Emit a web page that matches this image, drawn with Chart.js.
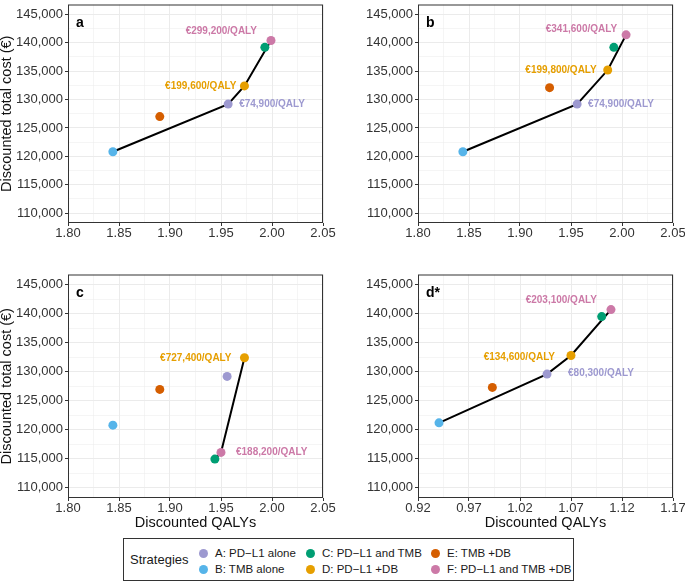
<!DOCTYPE html>
<html>
<head>
<meta charset="utf-8">
<script src="https://cdn.jsdelivr.net/npm/chart.js@4.4.1/dist/chart.umd.min.js"></script>
<style>
  body { margin: 0; background: #fff; width: 685px; height: 583px; position: relative; overflow: hidden;
         font-family: "Liberation Sans", Arial, sans-serif; }
  canvas { position: absolute; }
  #legend { position: absolute; left: 123px; top: 538px; width: 451px; height: 43px; border: 1px solid #333; box-sizing: border-box; }
  #legend .ttl { position: absolute; left: 6px; top: 13px; font-size: 13px; color: #1a1a1a; }
  #legend .item { position: absolute; font-size: 11.5px; color: #1a1a1a; white-space: nowrap; line-height: 16px; }
  #legend .dot { position: absolute; width: 9px; height: 9px; border-radius: 50%; }
</style>
</head>
<body>
<canvas id="pa" width="340" height="245" style="left:0;top:0"></canvas>
<canvas id="pb" width="345" height="245" style="left:340px;top:0"></canvas>
<canvas id="pc" width="340" height="260" style="left:0;top:270px"></canvas>
<canvas id="pd" width="345" height="260" style="left:340px;top:270px"></canvas>
<div id="legend"><span class="ttl">Strategies</span></div>
<script>
const strategies = ["A: PD\u2212L1 alone", "B: TMB alone", "C: PD\u2212L1 and TMB",
                    "D: PD\u2212L1 +DB", "E: TMB +DB", "F: PD\u2212L1 and TMB +DB"];
const colors = ["#9d99d0", "#56b4e9", "#009e73", "#e69f00", "#d55e00", "#cc79a7"];

// strategy order A..F
const qalyA = [1.957, 1.844, 1.993, 1.973, 1.890, 1.999];
const costA = [129200, 120800, 139200, 132400, 127000, 140400];
const frontierA = [1, 0, 3, 5];
const icerIdxA = [0, 3, 5];
const icerA = ["€74,900/QALY", "€199,600/QALY", "€299,200/QALY"];

const qalyB = [1.956, 1.844, 1.992, 1.986, 1.929, 2.004];
const costB = [129200, 120800, 139200, 135200, 132100, 141400];
const frontierB = [1, 0, 3, 5];
const icerIdxB = [0, 3, 5];
const icerB = ["€74,900/QALY", "€199,800/QALY", "€341,600/QALY"];

const qalyC = [1.956, 1.844, 1.944, 1.973, 1.890, 1.950];
const costC = [129200, 120800, 114950, 132400, 126950, 116100];
const frontierC = [2, 5, 3];
const icerIdxC = [5, 3];
const icerC = ["€188,200/QALY", "€727,400/QALY"];

const qalyD = [1.0465, 0.9406, 1.1001, 1.070, 0.9929, 1.1092];
const costD = [129600, 121200, 139500, 132800, 127300, 140700];
const frontierD = [1, 0, 3, 5];
const icerIdxD = [0, 3, 5];
const icerD = ["€80,300/QALY", "€134,600/QALY", "€203,100/QALY"];

const xMajor1 = [1.80, 1.85, 1.90, 1.95, 2.00, 2.05];
const xMinor1 = [1.825, 1.875, 1.925, 1.975, 2.025];
const xMajor2 = [0.92, 0.97, 1.02, 1.07, 1.12, 1.17];
const xMinor2 = [0.945, 0.995, 1.045, 1.095, 1.145];
const yMajor = [110000, 115000, 120000, 125000, 130000, 135000, 140000, 145000];
const yMinor = [112500, 117500, 122500, 127500, 132500, 137500, 142500];

const FONT = '"Liberation Sans", Arial, sans-serif';

const framePlugin = {
  id: 'frame',
  afterDraw(chart) {
    const { ctx, chartArea: a } = chart;
    ctx.save();
    ctx.strokeStyle = '#333';
    ctx.lineWidth = 1;
    ctx.strokeRect(a.left + 0.5, a.top + 0.5, a.width - 1, a.height - 1);
    ctx.restore();
  }
};

const icerPlugin = {
  id: 'icer',
  afterDatasetsDraw(chart, args, opts) {
    const { ctx, chartArea: a } = chart;
    const x = chart.scales.x, y = chart.scales.y;
    ctx.save();
    ctx.textBaseline = 'middle';
    ctx.font = 'bold 10px ' + FONT;
    opts.items.forEach(it => {
      ctx.fillStyle = it.color;
      ctx.textAlign = it.dx < 0 ? 'right' : 'left';
      ctx.fillText(it.text, x.getPixelForValue(it.q) + it.dx, y.getPixelForValue(it.c) + it.dy);
    });
    ctx.font = 'bold 14px ' + FONT;
    ctx.fillStyle = '#000';
    ctx.textAlign = 'left';
    ctx.fillText(opts.tag, a.left + 8, a.top + 19);
    ctx.restore();
  }
};

function tickList(major, minor) {
  return major.map(v => ({ value: v, isMajor: true }))
    .concat(minor.map(v => ({ value: v, isMajor: false })))
    .sort((p, q) => p.value - q.value);
}

function makePanel(id, p) {
  const isMaj = c => c.tick && c.tick.isMajor;
  const grid = {
    color: '#ebebeb',
    lineWidth: c => isMaj(c) ? 1 : 0.5,
    drawTicks: true,
    tickLength: 3,
    tickWidth: 1,
    tickColor: c => isMaj(c) ? '#333' : 'rgba(0,0,0,0)'
  };
  const items = p.icerIdx.map((i, k) => ({
    q: p.qaly[i], c: p.cost[i], text: p.icer[k], color: colors[i], dx: p.offs[k][0], dy: p.offs[k][1]
  }));
  new Chart(document.getElementById(id), {
    type: 'scatter',
    data: {
      datasets: [
        {
          type: 'line',
          data: p.frontier.map(i => ({ x: p.qaly[i], y: p.cost[i] })),
          borderColor: '#000', borderWidth: 2, pointRadius: 0, fill: false, tension: 0, order: 2
        },
        {
          data: p.qaly.map((q, i) => ({ x: q, y: p.cost[i] })),
          backgroundColor: colors, borderWidth: 0, pointRadius: 4.5, order: 1
        }
      ]
    },
    options: {
      responsive: false,
      animation: false,
      events: [],
      layout: { padding: p.pad },
      plugins: { legend: { display: false }, tooltip: { enabled: false }, icer: { items: items, tag: p.tag } },
      scales: {
        x: {
          type: 'linear', min: p.xMajor[0], max: p.xMajor[p.xMajor.length - 1],
          afterBuildTicks: s => { s.ticks = tickList(p.xMajor, p.xMinor); },
          afterFit: s => { s.height = p.xH; s.paddingLeft = 0; s.paddingRight = 0; },
          grid: grid,
          border: { display: false },
          ticks: {
            autoSkip: false, maxRotation: 0, padding: 0, color: '#333', font: { size: 13, family: FONT },
            callback: (v, i, t) => t[i].isMajor ? v.toFixed(2) : ''
          },
          title: { display: p.xTitle, text: 'Discounted QALYs', color: '#111', padding: 0,
                   font: { size: 14.5, family: FONT, lineHeight: 1 } }
        },
        y: {
          type: 'linear', min: 108250, max: 146750,
          afterBuildTicks: s => { s.ticks = tickList(yMajor, yMinor); },
          afterFit: s => { s.width = p.yW; s.paddingTop = 0; s.paddingBottom = 0; },
          grid: grid,
          border: { display: false },
          ticks: {
            autoSkip: false, padding: 2, color: '#333', font: { size: 13, family: FONT },
            callback: (v, i, t) => t[i].isMajor ? v.toLocaleString('en-US') : ''
          },
          title: { display: p.yTitle, text: 'Discounted total cost (€)', color: '#111', padding: 0,
                   font: { size: 14.5, family: FONT, lineHeight: 1 } }
        }
      }
    },
    plugins: [framePlugin, icerPlugin]
  });
}

makePanel('pa', { qaly: qalyA, cost: costA, frontier: frontierA, icerIdx: icerIdxA, icer: icerA,
  offs: [[11, 0], [-8, 0], [-14, -9]], tag: 'a', xMajor: xMajor1, xMinor: xMinor1,
  pad: { top: 1, right: 17, left: 0, bottom: 0 }, xH: 22, yW: 68, xTitle: false, yTitle: true });
makePanel('pb', { qaly: qalyB, cost: costB, frontier: frontierB, icerIdx: icerIdxB, icer: icerB,
  offs: [[11, 0], [-11, 0], [-9, -6]], tag: 'b', xMajor: xMajor1, xMinor: xMinor1,
  pad: { top: 1, right: 12, left: 0, bottom: 0 }, xH: 22, yW: 78, xTitle: false, yTitle: false });
makePanel('pc', { qaly: qalyC, cost: costC, frontier: frontierC, icerIdx: icerIdxC, icer: icerC,
  offs: [[15, 0], [-13, 0]], tag: 'c', xMajor: xMajor1, xMinor: xMinor1,
  pad: { top: 4, right: 17, left: 0, bottom: 0 }, xH: 32, yW: 68, xTitle: true, yTitle: true });
makePanel('pd', { qaly: qalyD, cost: costD, frontier: frontierD, icerIdx: icerIdxD, icer: icerD,
  offs: [[21, -1], [-16, 2], [-14, -9]], tag: 'd*', xMajor: xMajor2, xMinor: xMinor2,
  pad: { top: 4, right: 12, left: 0, bottom: 0 }, xH: 32, yW: 78, xTitle: true, yTitle: false });

// legend: 3 columns x 2 rows
const legend = document.getElementById('legend');
const colDot = [79, 186, 311];
const rowY = [15, 31];
strategies.forEach((s, i) => {
  const col = Math.floor(i / 2), row = i % 2;
  const dot = document.createElement('span');
  dot.className = 'dot';
  dot.style.background = colors[i];
  dot.style.left = (colDot[col] - 4.5) + 'px';
  dot.style.top = (rowY[row] - 4.5 - 1) + 'px';
  legend.appendChild(dot);
  const t = document.createElement('span');
  t.className = 'item';
  t.textContent = s;
  t.style.left = (colDot[col] + 12) + 'px';
  t.style.top = (rowY[row] - 8 - 1) + 'px';
  legend.appendChild(t);
});
</script>
</body>
</html>
